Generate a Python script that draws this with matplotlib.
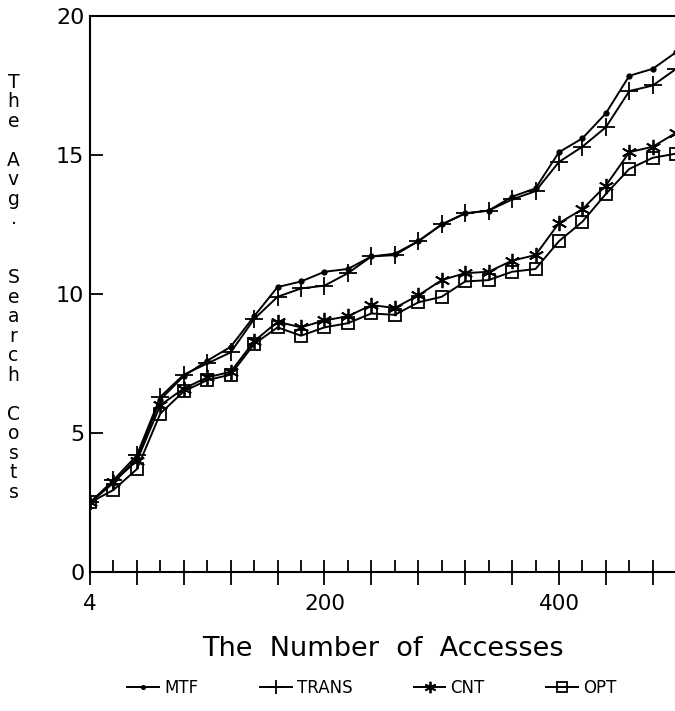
import matplotlib
matplotlib.use("Agg")
import matplotlib.pyplot as plt
import numpy as np

plt.rcParams['font.family'] = ['DejaVu Sans']

# ---- data ----
accesses = [0, 20, 40, 60, 80, 100, 120, 140, 160, 180, 200, 220, 240,
            260, 280, 300, 320, 340, 360, 380, 400, 420, 440, 460, 480, 500]
mtf = [2.5, 3.2, 4.1, 6.2, 7.05, 7.6, 8.1, 9.2, 10.25, 10.45, 10.8, 10.9, 11.35,
       11.45, 11.9, 12.5, 12.9, 13.0, 13.5, 13.8, 15.1, 15.6, 16.5, 17.85, 18.1, 18.7]
trans = [2.5, 3.3, 4.2, 6.3, 7.1, 7.5, 7.9, 9.1, 9.9, 10.2, 10.3, 10.75, 11.35,
         11.4, 11.9, 12.5, 12.9, 13.0, 13.4, 13.7, 14.75, 15.3, 16.0, 17.3, 17.5, 18.1]
cnt = [2.5, 3.25, 4.0, 6.0, 6.6, 7.0, 7.2, 8.3, 9.0, 8.8, 9.05, 9.2, 9.6,
       9.5, 9.95, 10.5, 10.75, 10.8, 11.2, 11.4, 12.55, 13.05, 13.9, 15.1, 15.3, 15.8]
opt = [2.5, 2.95, 3.7, 5.7, 6.5, 6.9, 7.1, 8.2, 8.8, 8.5, 8.8, 8.95, 9.3,
       9.25, 9.7, 9.9, 10.45, 10.5, 10.8, 10.9, 11.9, 12.6, 13.6, 14.5, 14.9, 15.05]

x_tick_pos = [0, 200, 400]
x_tick_labels = ['4', '200', '400']
y_ticks = [0, 5, 10, 15, 20]

fig = plt.figure(figsize=(6.75, 7.11), dpi=100)
ax = fig.add_axes([0.1333, 0.1955, 0.8685, 0.782])

lw = 1.4
ax.plot(accesses, mtf, color='black', lw=lw, marker='o', ms=3.5, label='MTF')
ax.plot(accesses, trans, color='black', lw=lw, marker='+', ms=13, mew=1.3, label='TRANS')
ax.plot(accesses, cnt, color='black', lw=lw, marker=(6, 2, 0), ms=11, mew=1.3, label='CNT')
ax.plot(accesses, opt, color='black', lw=lw, marker='s', ms=9, mew=1.3,
        fillstyle='none', label='OPT')

ax.set_xlim(0, 500)
ax.set_ylim(0, 20)

ax.set_xticks(np.arange(0, 501, 40))
ax.set_xticklabels([x_tick_labels[x_tick_pos.index(v)] if v in x_tick_pos else ''
                    for v in range(0, 501, 40)])
ax.set_xticks(np.arange(20, 501, 40), minor=True)
ax.tick_params(axis='x', which='major', direction='inout', length=18, width=1.3,
               labelsize=15.5, pad=7)
ax.tick_params(axis='x', which='minor', direction='in', length=9, width=1.3)

ax.set_yticks(y_ticks)
ax.tick_params(axis='y', which='major', direction='in', length=9, width=1.3,
               labelsize=16, pad=4)

for s in ax.spines.values():
    s.set_linewidth(1.5)

ax.set_xlabel('The  Number  of  Accesses', fontsize=19.5, labelpad=16)

# stacked vertical y-label (one letter per line; blank lines between words,
# two after the period)
ylabel_words = ["The", "Avg.", "Search", "Costs"]
lines = []
for i, w in enumerate(ylabel_words):
    lines.extend(list(w))
    if i < len(ylabel_words) - 1:
        lines.extend([''] * (2 if w.endswith('.') else 1))
fig.text(0.02, 0.596, "\n".join(lines),
         ha='center', va='center', fontsize=13.5, linespacing=1.035)

leg = fig.legend(loc='center', bbox_to_anchor=(0.551, 0.032), ncol=4, frameon=False,
                 fontsize=12, handlelength=1.9, handletextpad=0.3, columnspacing=3.7,
                 markerscale=0.75)

fig.savefig('out.png', dpi=100)
